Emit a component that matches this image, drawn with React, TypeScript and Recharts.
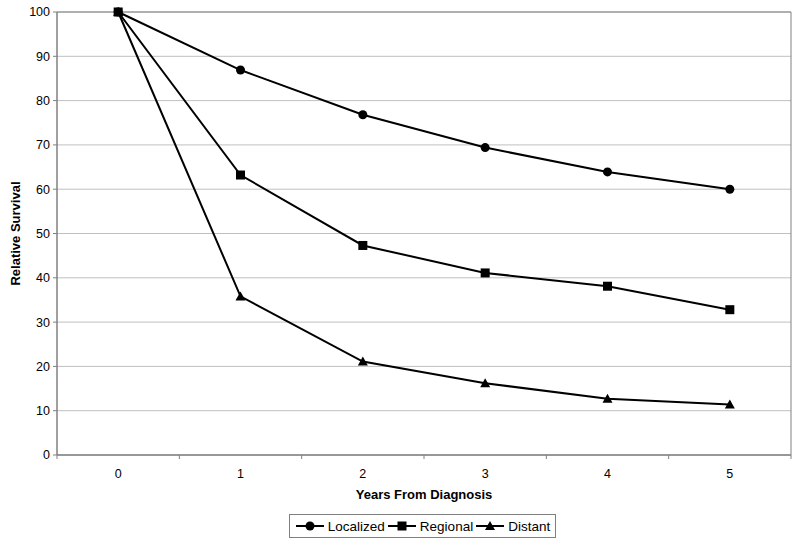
import { CartesianGrid, Legend, Line, LineChart, ReferenceLine, XAxis, YAxis } from 'recharts';

const years = [0, 1, 2, 3, 4, 5];
const localized = [100, 86.9, 76.8, 69.4, 63.9, 60.0];
const regional = [100, 63.2, 47.3, 41.1, 38.1, 32.8];
const distant = [100, 35.8, 21.1, 16.2, 12.7, 11.4];
const yTicks = [0, 10, 20, 30, 40, 50, 60, 70, 80, 90, 100];

const data = years.map((year, i) => ({
  year,
  Localized: localized[i],
  Regional: regional[i],
  Distant: distant[i],
}));

const FONT = '"Liberation Sans", Arial, sans-serif';
const AXIS = '#808080';
const GRID = '#c0c0c0';

type Shape = 'circle' | 'square' | 'triangle';

const Marker = ({ cx, cy, shape }: { cx: number; cy: number; shape: Shape }) => {
  if (cx == null || cy == null) return null;
  if (shape === 'circle') return <circle cx={cx} cy={cy} r={4.5} fill='#000' />;
  if (shape === 'square') return <rect x={cx - 4.5} y={cy - 4.5} width={9} height={9} fill='#000' />;
  return <polygon points={`${cx},${cy - 5} ${cx + 5},${cy + 4} ${cx - 5},${cy + 4}`} fill='#000' />;
};

const series: { key: string; shape: Shape }[] = [
  { key: 'Localized', shape: 'circle' },
  { key: 'Regional', shape: 'square' },
  { key: 'Distant', shape: 'triangle' },
];

// category labels in the middle, tick marks on the boundaries
const XTick = (props: any) => {
  const { x, y, payload, width, index } = props;
  const half = width / 12;
  const axisY = y - 14;
  return (
    <g>
      <line x1={x - half} x2={x - half} y1={axisY} y2={axisY + 4} stroke={AXIS} />
      {index === years.length - 1 && (
        <line x1={x + half} x2={x + half} y1={axisY} y2={axisY + 4} stroke={AXIS} />
      )}
      <text x={x} y={y + 9} textAnchor='middle' fontSize={12.5} fontFamily={FONT} fill='#000'>
        {payload.value}
      </text>
    </g>
  );
};

const LegendBox = () => (
  <div
    style={{
      display: 'inline-flex',
      alignItems: 'center',
      border: '1px solid #808080',
      height: 22,
      padding: '0 5px 0 3px',
      fontFamily: FONT,
      fontSize: 13.5,
      color: '#000',
      background: '#fff',
    }}>
    {series.map((s) => (
      <span key={s.key} style={{ display: 'inline-flex', alignItems: 'center', marginLeft: 3 }}>
        <svg width={28} height={12} style={{ marginRight: 4 }}>
          <line x1={0} x2={28} y1={6} y2={6} stroke='#000' strokeWidth={2} />
          <Marker cx={14} cy={6} shape={s.shape} />
        </svg>
        {s.key}
      </span>
    ))}
  </div>
);

const App = () => (
  <div style={{ position: 'absolute', left: 0, top: 0, background: '#fff' }}>
    <LineChart width={800} height={546} data={data} margin={{ top: 12, right: 9, bottom: 0, left: 0 }}>
      <CartesianGrid horizontal vertical={false} stroke={GRID} />
      <XAxis
        dataKey='year'
        type='number'
        domain={[-0.5, 5.5]}
        ticks={years}
        interval={0}
        height={67}
        tickSize={4}
        tickMargin={10}
        tickLine={false}
        axisLine={{ stroke: AXIS, strokeWidth: 1.5 }}
        tick={<XTick />}
        label={{
          value: 'Years From Diagnosis',
          position: 'insideBottom',
          offset: 23,
          style: { fontFamily: FONT, fontSize: 13, fontWeight: 'bold', fill: '#000' },
        }}
      />
      <YAxis
        width={57}
        domain={[0, 100]}
        ticks={yTicks}
        interval={0}
        tickSize={4}
        tickMargin={3}
        tickLine={{ stroke: AXIS }}
        axisLine={{ stroke: AXIS, strokeWidth: 1.5 }}
        tick={{ fontFamily: FONT, fontSize: 12.5, fill: '#000' }}
        label={{
          value: 'Relative Survival',
          angle: -90,
          position: 'insideLeft',
          offset: 15,
          style: { fontFamily: FONT, fontSize: 13, fontWeight: 'bold', fill: '#000', textAnchor: 'middle' },
        }}
      />
      <ReferenceLine x={5.5} stroke={AXIS} />
      <ReferenceLine y={100} stroke={AXIS} />
      {series.map((s) => (
        <Line
          key={s.key}
          dataKey={s.key}
          stroke='#000'
          strokeWidth={2}
          isAnimationActive={false}
          dot={(p: any) => <Marker key={`${s.key}-${p.index}`} cx={p.cx} cy={p.cy} shape={s.shape} />}
          activeDot={false}
        />
      ))}
      <Legend
        verticalAlign='bottom'
        height={24}
        wrapperStyle={{ bottom: 8 }}
        content={() => (
          <div style={{ textAlign: 'center', paddingLeft: 54 }}>
            <LegendBox />
          </div>
        )}
      />
    </LineChart>
  </div>
);

export default App;
